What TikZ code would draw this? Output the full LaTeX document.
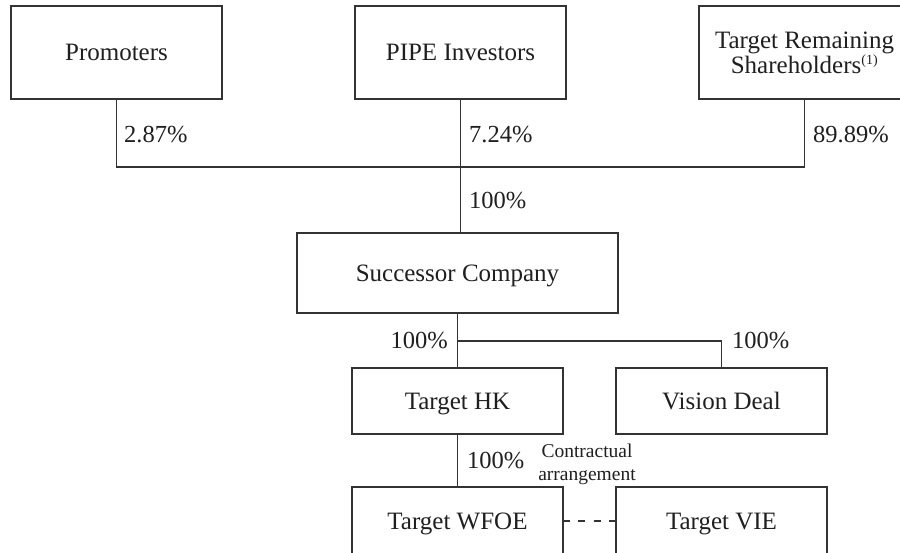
\documentclass[tikz,border=0pt]{standalone}
\usepackage{fontspec}
\setmainfont{Liberation Serif}
\begin{document}
\begin{tikzpicture}[x=1pt,y=-1pt,
  ink/.style={draw=black!80, line width=1.5pt},
  entity/.style={ink, rectangle, outer sep=0pt, inner sep=0pt, align=center,
    font=\fontsize{25}{25}\selectfont, text=black!88},
  oneline/.style={text height=16.5pt, text depth=0pt},
  pct/.style={font=\fontsize{24.5}{26}\selectfont, text=black!88, inner sep=0pt},
  note/.style={font=\fontsize{19.5}{23}\selectfont, text=black!88, align=center, inner sep=0pt}]
\useasboundingbox (0,0) rectangle (900,553);

% shareholders
\node[entity, oneline, minimum width=211pt, minimum height=93pt] (prom) at (116.5,52.5) {Promoters};
\node[entity, oneline, minimum width=211pt, minimum height=93pt] (pipe) at (460.5,52.5) {PIPE Investors};
\node[entity, minimum width=211pt, minimum height=93pt] (rem) at (804.5,52.5)
  {Target Remaining\\Shareholders\textsuperscript{\fontsize{14}{14}\selectfont(1)}};

% group entities
\node[entity, oneline, minimum width=321pt, minimum height=80pt] (succ) at (457.5,273) {Successor Company};
\node[entity, oneline, minimum width=211pt, minimum height=66pt] (hk) at (457.5,401) {Target HK};
\node[entity, oneline, minimum width=211pt, minimum height=66pt] (vis) at (721.5,401) {Vision Deal};
\node[entity, oneline, minimum width=211pt, minimum height=68pt] (wfoe) at (457.5,521) {Target WFOE};
\node[entity, oneline, minimum width=211pt, minimum height=68pt] (vie) at (721.5,521) {Target VIE};

% ownership lines
\coordinate (j1) at (460.5,167);
\coordinate (j2) at (457.5,341);
\draw[ink] (prom.south) |- (j1) -| (rem.south);
\draw[ink] (pipe.south) -- (pipe.south |- succ.north);
\draw[ink] (hk.north |- succ.south) -- (hk.north);
\draw[ink] (j2) -| (vis.north);
\draw[ink] (hk.south) -- (wfoe.north);
\draw[ink, dash pattern=on 7pt off 8.3pt] (wfoe.east) -- (vie.west);

% percentages
\node[pct, anchor=west] (p1) at (124,135) {2.87\%};
\node[pct, anchor=west] (p2) at (469,135) {7.24\%};
\node[pct, anchor=west] (p3) at (813,135) {89.89\%};
\node[pct, anchor=west] (p4) at (469,201) {100\%};
\node[pct, anchor=east] (p5) at (448,341) {100\%};
\node[pct, anchor=west] (p6) at (732,341) {100\%};
\node[pct, anchor=west] (p7) at (467,461) {100\%};
\node[note] (ca) at (587,464) {Contractual\\arrangement};
\end{tikzpicture}
\end{document}
